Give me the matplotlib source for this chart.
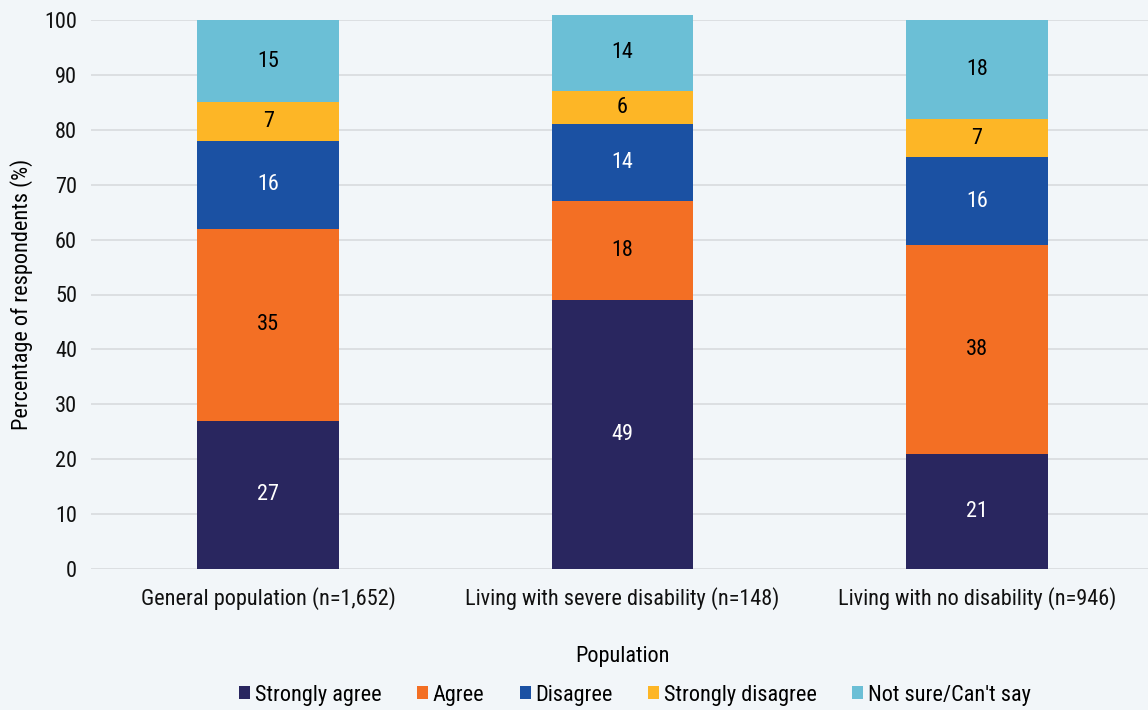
import matplotlib.pyplot as plt
from matplotlib import font_manager

# pick a narrow family if one is installed
names = {f.name for f in font_manager.fontManager.ttflist}
for fam in ['Liberation Sans Narrow', 'Roboto Condensed', 'Open Sans Condensed', 'Roboto']:
    if fam in names:
        plt.rcParams['font.family'] = [fam, 'DejaVu Sans']
        break

groups = ['General population (n=1,652)', 'Living with severe disability (n=148)',
          'Living with no disability (n=946)']
categories = ['Strongly agree', 'Agree', 'Disagree', 'Strongly disagree', 'Not sure/Can\'t say']
strongly_agree = [27, 49, 21]
agree = [35, 18, 38]
disagree = [16, 14, 16]
strongly_disagree = [7, 6, 7]
not_sure = [15, 14, 18]
yticks = list(range(0, 101, 10))

series = [strongly_agree, agree, disagree, strongly_disagree, not_sure]
colors = ['#29265f', '#f36f24', '#1b51a3', '#fdb626', '#6bbfd6']
text_colors = ['white', 'black', 'white', 'black', 'black']
bg = '#f2f6f9'
fs = 16

fig = plt.figure(figsize=(11.48, 7.10), dpi=100, facecolor=bg)
ax = fig.add_axes([91 / 1148, (710 - 569) / 710, 1063 / 1148, 549 / 710])
ax.set_facecolor(bg)

x = range(len(groups))
bottom = [0] * len(groups)
handles = []
for vals, col, tc, name in zip(series, colors, text_colors, categories):
    bars = ax.bar(x, vals, 0.4, bottom=bottom, color=col, label=name, clip_on=False, zorder=3)
    handles.append(bars)
    for i, v in enumerate(vals):
        ax.text(i, bottom[i] + v / 2, str(v), ha='center', va='center',
                color=tc, fontsize=fs, zorder=4)
    bottom = [b + v for b, v in zip(bottom, vals)]

ax.set_xlim(-0.5, 2.5)
ax.set_ylim(0, 100)
ax.set_yticks(yticks)
ax.set_xticks(list(x))
ax.set_xticklabels(groups)
ax.tick_params(axis='both', length=0, labelsize=fs, colors='#111111')
ax.tick_params(axis='x', pad=13)
ax.tick_params(axis='y', pad=10)
ax.grid(axis='y', color='#d8dbde', linewidth=1.2, zorder=0)
for s in ax.spines.values():
    s.set_visible(False)

ax.set_ylabel('Percentage of respondents (%)', fontsize=fs, labelpad=8)
ax.set_xlabel('Population', fontsize=fs, labelpad=26)

fig.legend(handles=handles, loc='lower center', bbox_to_anchor=(0.553, -0.022), ncol=5,
           frameon=False, fontsize=fs, handlelength=0.5, handleheight=0.5,
           handletextpad=0.2, columnspacing=1.6)

fig.savefig('out.png', dpi=100, facecolor=bg)
